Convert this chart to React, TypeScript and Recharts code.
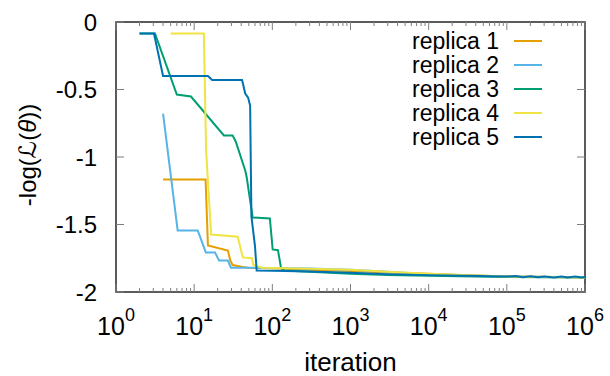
import React from "react";
import { LineChart, Line, XAxis, YAxis, ReferenceArea } from "recharts";

// ---------- data ----------
const seriesNames = ["replica 1", "replica 2", "replica 3", "replica 4", "replica 5"];
const seriesColors = ["#E69F00", "#56B4E9", "#009E73", "#F0E442", "#0072B2"];

const r1Iter = [4, 14, 15, 27, 29, 31, 42, 49, 100, 300, 1000, 3000, 10000, 30000, 100000, 1000000];
const r1Val = [-1.167, -1.167, -1.656, -1.693, -1.767, -1.8, -1.815, -1.82, -1.825, -1.835, -1.845, -1.855, -1.865, -1.875, -1.885, -1.89];

const r2Iter = [4, 6.15, 11.1, 14.1, 18.5, 20.8, 27, 29.5, 100, 300, 1000, 3000, 10000, 100000, 1000000];
const r2Val = [-0.678, -1.544, -1.544, -1.707, -1.707, -1.767, -1.767, -1.82, -1.822, -1.826, -1.835, -1.85, -1.868, -1.885, -1.89];

const r3Iter = [2, 3.15, 6, 9.1, 24, 31, 34, 45, 47, 56, 93, 101, 118, 129, 141, 300, 1000, 3000, 10000, 100000, 1000000];
const r3Val = [-0.085, -0.085, -0.537, -0.552, -0.84, -0.84, -0.885, -1.1, -1.15, -1.448, -1.455, -1.685, -1.69, -1.82, -1.84, -1.85, -1.865, -1.875, -1.88, -1.888, -1.892];

const r4Iter = [5, 13.3, 14.2, 16.5, 36, 42, 55, 57, 74, 200, 1000, 3000, 10000, 100000, 1000000];
const r4Val = [-0.085, -0.085, -0.95, -1.574, -1.59, -1.744, -1.75, -1.8, -1.82, -1.825, -1.835, -1.85, -1.865, -1.885, -1.893];

const r5Iter = [2, 3.06, 4, 15, 17, 41, 45, 49, 52, 54, 60, 63, 100, 300, 1000, 3000, 10000, 30000, 100000,
  130000, 160000, 200000, 250000, 300000, 400000, 500000, 600000, 750000, 900000, 1000000];
const r5Val = [-0.085, -0.085, -0.4, -0.4, -0.43, -0.43, -0.53, -0.56, -0.62, -1.44, -1.66, -1.84, -1.842, -1.848, -1.858, -1.868, -1.875, -1.88, -1.885,
  -1.882, -1.89, -1.884, -1.891, -1.885, -1.892, -1.886, -1.892, -1.886, -1.892, -1.889];

const xMajorTicks = [1, 10, 100, 1000, 10000, 100000, 1000000];
const xMinorMultipliers = [2, 3, 4, 5, 6, 7, 8, 9];
const yTicks = [0, -0.5, -1, -1.5, -2];

const toPoints = (xs: number[], ys: number[]) => xs.map((x, i) => ({ x, y: ys[i] }));
const seriesData = [
  toPoints(r1Iter, r1Val),
  toPoints(r2Iter, r2Val),
  toPoints(r3Iter, r3Val),
  toPoints(r4Iter, r4Val),
  toPoints(r5Iter, r5Val),
];

const xTicks: number[] = [];
xMajorTicks.forEach((m, i) => {
  xTicks.push(m);
  if (i < xMajorTicks.length - 1) xMinorMultipliers.forEach((k) => xTicks.push(k * m));
});

// ---------- layout ----------
const W = 610;
const H = 376;
const MARGIN = { top: 22, right: 25, bottom: 0, left: 0 };
const YAXIS_W = 116;
const XAXIS_H = 84;
const PL = MARGIN.left + YAXIS_W;
const PR = W - MARGIN.right;
const PT = MARGIN.top;
const PB = H - MARGIN.bottom - XAXIS_H;
const FONT = '"Liberation Sans", Arial, Helvetica, sans-serif';
const TICK_COLOR = "#7f7f7f";

const XTick = (props: any) => {
  const { x, payload } = props;
  const v = payload.value as number;
  const k = Math.round(Math.log10(v));
  const major = Math.abs(Math.pow(10, k) - v) < 1e-6 * v;
  const len = major ? 8 : 4;
  return (
    <g>
      <line x1={x} x2={x} y1={PB} y2={PB - len} stroke={TICK_COLOR} strokeWidth={1} />
      <line x1={x} x2={x} y1={PT} y2={PT + len} stroke={TICK_COLOR} strokeWidth={1} />
      {major && (
        <text x={x} y={PB + 43} textAnchor="middle" fontFamily={FONT} fontSize={25} fill="#000">
          10
          <tspan dy={-14} fontSize={18}>{k}</tspan>
        </text>
      )}
    </g>
  );
};

const YTick = (props: any) => {
  const { y, payload } = props;
  const v = payload.value as number;
  return (
    <g>
      <line x1={PL} x2={PL + 8} y1={y} y2={y} stroke={TICK_COLOR} strokeWidth={1} />
      <line x1={PR - 8} x2={PR} y1={y} y2={y} stroke={TICK_COLOR} strokeWidth={1} />
      <text x={PL - 19} y={y} dy="0.36em" textAnchor="end" fontFamily={FONT} fontSize={24} fill="#000">
        {String(v)}
      </text>
    </g>
  );
};

const XLabel = () => (
  <text x={(PL + PR) / 2} y={PB + 79} textAnchor="middle" fontFamily={FONT} fontSize={26} fill="#000">
    iteration
  </text>
);

const YLabel = () => {
  const cx = 27;
  const cy = 155;
  return (
    <text
      x={cx}
      y={cy}
      dy="0.36em"
      textAnchor="middle"
      transform={`rotate(-90, ${cx}, ${cy})`}
      fontFamily={FONT}
      fontSize={24}
      fill="#000"
    >
      -log(<tspan fontFamily='"DejaVu Sans", sans-serif' fontStyle="italic">ℒ</tspan>(
      <tspan fontStyle="italic">θ</tspan>))
    </text>
  );
};

const LegendBox = () => (
  <div
    style={{
      position: "absolute",
      left: 360,
      top: 29,
      width: 182,
      fontFamily: FONT,
      fontSize: 23,
      color: "#000",
    }}
  >
    {seriesNames.map((name, i) => (
      <div
        key={name}
        style={{ height: 24, display: "flex", alignItems: "center", justifyContent: "flex-end" }}
      >
        <span style={{ lineHeight: "24px", whiteSpace: "nowrap" }}>{name}</span>
        <span
          style={{
            display: "inline-block",
            width: 28,
            height: 2,
            marginLeft: 15,
            background: seriesColors[i],
          }}
        />
      </div>
    ))}
  </div>
);

export default function App() {
  return (
    <div style={{ position: "absolute", left: 0, top: 0, width: W, height: H, background: "#fff" }}>
      <LineChart width={W} height={H} margin={MARGIN}>
        <XAxis
          dataKey="x"
          type="number"
          scale="log"
          domain={[1, 1000000]}
          allowDataOverflow
          ticks={xTicks}
          interval={0}
          tick={<XTick />}
          tickLine={false}
          axisLine={false}
          height={XAXIS_H}
          label={XLabel}
        />
        <YAxis
          type="number"
          domain={[-2, 0]}
          ticks={yTicks}
          interval={0}
          tick={<YTick />}
          tickLine={false}
          axisLine={false}
          width={YAXIS_W}
          label={YLabel}
        />
        <ReferenceArea
          x1={1}
          x2={1000000}
          y1={-2}
          y2={0}
          fill="none"
          fillOpacity={0}
          stroke="#262626"
          strokeWidth={1.5}
        />
        {seriesData.map((d, i) => (
          <Line
            key={seriesNames[i]}
            data={d}
            dataKey="y"
            name={seriesNames[i]}
            type="linear"
            stroke={seriesColors[i]}
            strokeWidth={2}
            dot={false}
            activeDot={false}
            isAnimationActive={false}
          />
        ))}
      </LineChart>
      <LegendBox />
    </div>
  );
}
